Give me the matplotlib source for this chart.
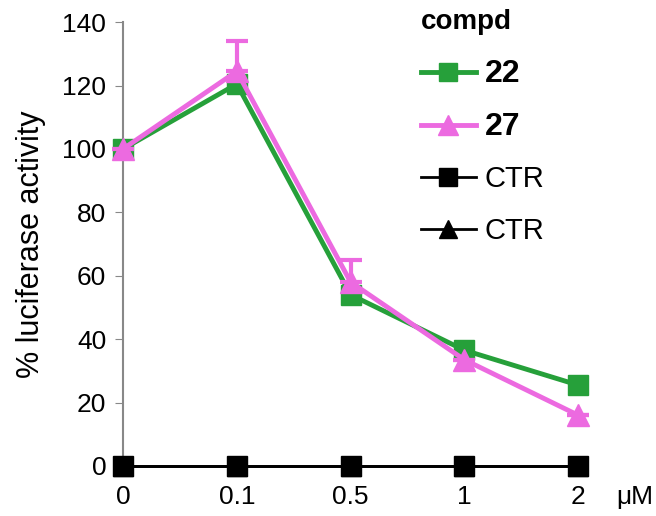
import matplotlib
matplotlib.use("Agg")
import matplotlib.pyplot as plt
import numpy as np

plt.rcParams['font.family'] = ['Liberation Sans', 'DejaVu Sans']

doses = ['0', '0.1', '0.5', '1', '2']
compd22 = [100, 120.5, 54, 36.5, 25.5]
compd27 = [100, 124.5, 58, 33.5, 16]
compd27_err = [0, 9.5, 7, 0, 0]
ctr22 = [0, 0, 0, 0, 0]
ctr27 = [0, 0, 0, 0, 0]

green = '#26a03a'
pink = '#ec6ae0'

fig = plt.figure(figsize=(6.56, 5.16), dpi=100)
ax = fig.add_axes([0.1875, 0.097, 0.694, 0.86])
x = np.arange(len(doses))

h22, = ax.plot(x, compd22, color=green, lw=3.5, marker='s', ms=15, mec=green, label='22',
               clip_on=False, zorder=3)
ax.errorbar(x, compd27, yerr=[np.zeros(5), compd27_err], fmt='none', ecolor=pink,
            capsize=8, capthick=3, elinewidth=3, clip_on=False, zorder=4)
h27, = ax.plot(x, compd27, color=pink, lw=3.5, marker='^', ms=16, mec=pink, label='27',
               clip_on=False, zorder=4)
hc1, = ax.plot(x, ctr22, color='black', lw=2, marker='s', ms=14, label='CTR', clip_on=False, zorder=5)
hc2, = ax.plot(x, ctr27, color='black', lw=2, marker='^', ms=15, label='CTR', clip_on=False, zorder=5)

ax.set_xlim(0, 4)
ax.set_ylim(0, 140)
ax.set_yticks(range(0, 141, 20))
ax.set_xticks(x)
ax.set_xticklabels(doses)
ax.tick_params(axis='x', length=0, labelsize=19, pad=14)
ax.tick_params(axis='y', length=6, color='#888888', labelsize=19, pad=6)
for s in ['top', 'right', 'bottom']:
    ax.spines[s].set_visible(False)
ax.spines['left'].set_color('#888888')
ax.spines['left'].set_linewidth(1.5)
ax.set_ylabel('% luciferase activity', fontsize=22, labelpad=12)
fig.text(0.968, 0.037, 'μM', fontsize=19, ha='center', va='center')

leg = ax.legend(handles=[h22, h27, hc1, hc2], title='compd', loc='upper left',
                bbox_to_anchor=(0.596, 1.088), frameon=False, fontsize=21, handlelength=1.9,
                labelspacing=0.8, handletextpad=0.3, markerscale=0.9)
leg.get_title().set_fontweight('bold')
leg.get_title().set_fontsize(20)
leg._legend_box.align = 'left'
texts = leg.get_texts()
texts[0].set_fontweight('bold')
texts[1].set_fontweight('bold')
texts[0].set_fontsize(23)
texts[1].set_fontsize(23)

fig.savefig('out.png', dpi=100)
